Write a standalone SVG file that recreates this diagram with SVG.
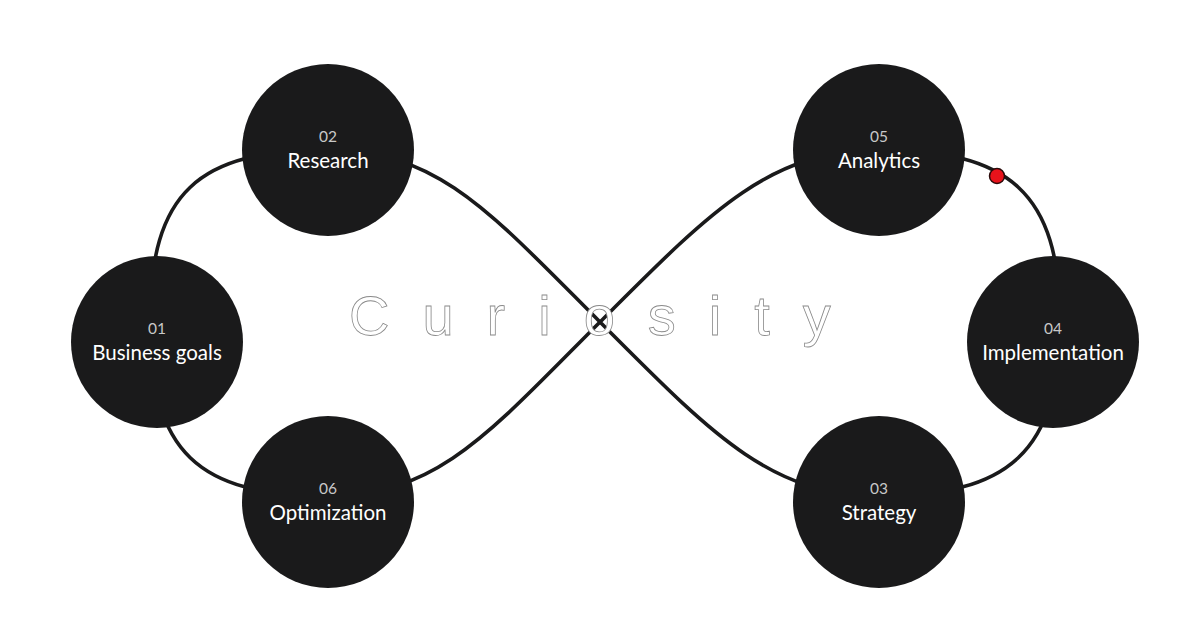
<svg xmlns="http://www.w3.org/2000/svg" width="1200" height="634" viewBox="0 0 1200 634">
  <style>
    .node circle { fill: #1a1a1b; }
    .num { font-family: Lato, "Noto Sans", sans-serif; font-size: 15.5px; fill: #c8c8c8; text-anchor: middle; }
    .lbl { font-family: Lato, "Noto Sans", sans-serif; font-size: 20.5px; fill: #ffffff; text-anchor: middle; }
    .conn { fill: none; stroke: #1a1a1b; stroke-width: 3.6; }
    .title { font-family: "Liberation Sans", Arial, sans-serif; font-size: 56px; letter-spacing: 33px; fill: #ffffff; stroke: #8a8a8a; stroke-width: 0.8; }
  </style>
  <rect width="1200" height="634" fill="#ffffff"/>
  <g id="connectors">
    <path class="conn" d="M600,322 C490,212 438,150 328,150 C198,150 150,192 150,322 C150,452 198,496 328,496 C438,496 490,432 600,322 C710,212 769,150 879,150 C1009,150 1060,192 1060,322 C1060,452 1009,496 879,496 C769,496 710,432 600,322 Z"/>
  </g>
  <g id="node-01" class="node">
    <circle cx="157" cy="342" r="86"/>
    <text class="num" x="157" y="334">01</text>
    <text class="lbl" x="157" y="360">Business goals</text>
  </g>
  <g id="node-02" class="node">
    <circle cx="328" cy="150" r="86"/>
    <text class="num" x="328" y="142">02</text>
    <text class="lbl" x="328" y="168">Research</text>
  </g>
  <g id="node-03" class="node">
    <circle cx="879" cy="502" r="86"/>
    <text class="num" x="879" y="494">03</text>
    <text class="lbl" x="879" y="520">Strategy</text>
  </g>
  <g id="node-04" class="node">
    <circle cx="1053" cy="342" r="86"/>
    <text class="num" x="1053" y="334">04</text>
    <text class="lbl" x="1053" y="360">Implementation</text>
  </g>
  <g id="node-05" class="node">
    <circle cx="879" cy="150" r="86"/>
    <text class="num" x="879" y="142">05</text>
    <text class="lbl" x="879" y="168">Analytics</text>
  </g>
  <g id="node-06" class="node">
    <circle cx="328" cy="502" r="86"/>
    <text class="num" x="328" y="494">06</text>
    <text class="lbl" x="328" y="520">Optimization</text>
  </g>
  <g id="marker-dot">
    <circle cx="997" cy="176" r="7.5" fill="#e8131b" stroke="#2a0a0a" stroke-width="1.5"/>
  </g>
  <text class="title" x="349" y="335">Curiosity</text>
</svg>
